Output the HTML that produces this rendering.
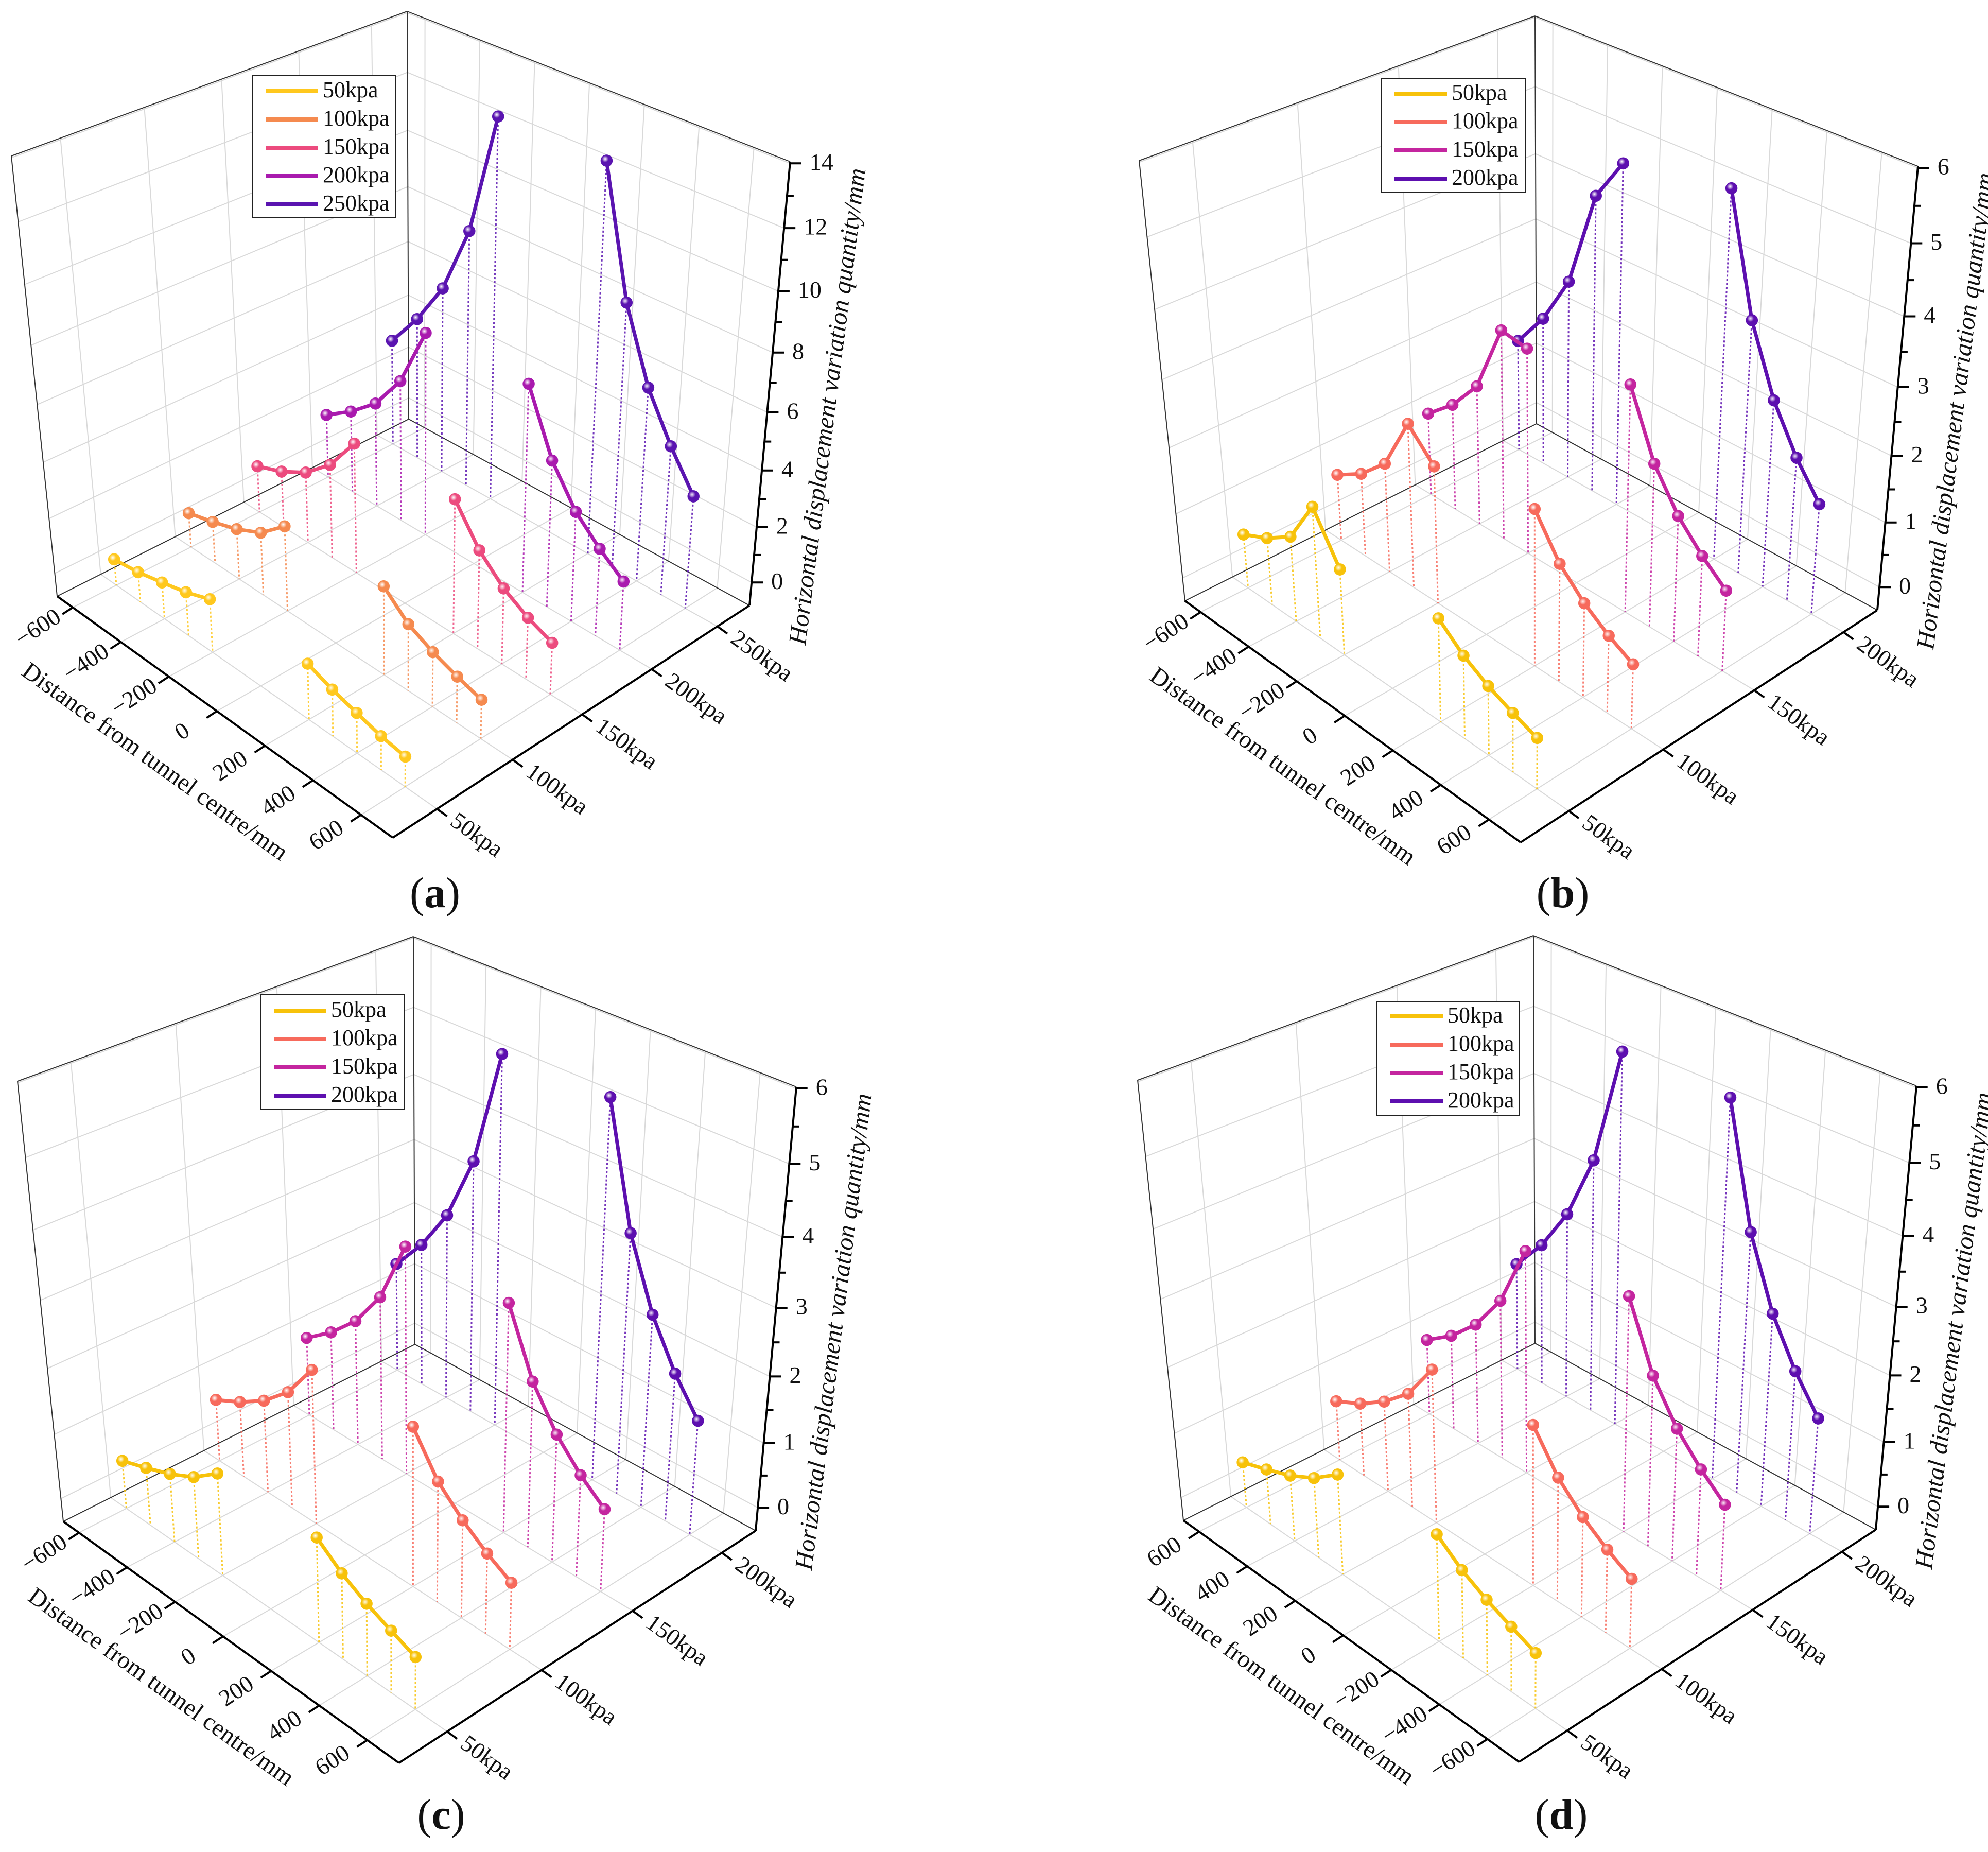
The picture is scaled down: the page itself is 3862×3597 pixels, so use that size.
<!DOCTYPE html>
<html><head><meta charset="utf-8"><title>Horizontal displacement 3D charts</title>
<style>
html,body{margin:0;padding:0;background:#fff;}
svg{display:block;font-family:"Liberation Serif","DejaVu Serif",serif;}
text{font-family:"Liberation Serif","DejaVu Serif",serif;fill:#111;}
</style></head>
<body>
<svg id="fig" xmlns="http://www.w3.org/2000/svg" width="3862" height="3597" viewBox="0 0 3862 3597" font-family="Liberation Serif, DejaVu Serif, serif">
<rect x="0" y="0" width="3862" height="3597" fill="#fff"/>
<defs id="defs"></defs>
</svg>
<script>
// ---------- data ----------
const distLeft = [-600,-500,-400,-300,-200];
const distRight = [200,300,400,500,600];
const distTickValues = [-600,-400,-200,0,200,400,600];
const distTickLabels = ["\u2212600","\u2212400","\u2212200","0","200","400","600"];

const seriesA = ["50kpa","100kpa","150kpa","200kpa","250kpa"];
const seriesBCD = ["50kpa","100kpa","150kpa","200kpa"];

const aLeft = [
  [0.11,0.24,0.46,0.69,1.01],
  [0.43,0.68,0.98,1.40,2.16],
  [0.90,1.25,1.75,2.55,3.80],
  [1.55,2.20,3.00,4.30,6.45],
  [3.16,4.45,6.03,8.48,12.7]
];
const aRight = [
  [1.01,0.69,0.46,0.24,0.11],
  [2.16,1.40,0.98,0.68,0.43],
  [3.80,2.55,1.75,1.25,0.90],
  [6.45,4.30,3.00,2.20,1.55],
  [12.7,8.48,6.03,4.45,3.16]
];
const bLeft = [
  [0.48,0.67,0.93,1.60,0.91],
  [0.69,0.94,1.32,2.13,1.71],
  [0.96,1.32,1.82,2.86,2.78],
  [1.44,2.00,2.77,4.23,4.86]
];
const bRight = [
  [1.10,0.80,0.60,0.45,0.33],
  [1.91,1.34,0.99,0.74,0.55],
  [3.00,2.06,1.50,1.12,0.82],
  [5.14,3.46,2.48,1.82,1.32]
];
const cLeft = [
  [0.39,0.53,0.68,0.87,1.15],
  [0.62,0.82,1.07,1.42,1.96],
  [0.90,1.21,1.60,2.17,3.11],
  [1.40,1.91,2.57,3.57,5.28]
];
const cRight = [
  [1.12,0.84,0.64,0.49,0.35],
  [1.95,1.38,1.04,0.78,0.58],
  [3.03,2.10,1.53,1.14,0.85],
  [5.30,3.57,2.57,1.89,1.38]
];
const dLeft = [
  [0.39,0.53,0.68,0.87,1.15],
  [0.62,0.82,1.07,1.42,1.96],
  [0.90,1.21,1.60,2.17,3.11],
  [1.40,1.91,2.57,3.57,5.28]
];
const dRight = [
  [1.12,0.84,0.64,0.49,0.35],
  [1.95,1.38,1.04,0.78,0.58],
  [3.03,2.10,1.53,1.14,0.85],
  [5.30,3.57,2.57,1.89,1.38]
];
const zTicksA = [0,2,4,6,8,10,12,14];
const zTicksBCD = [0,1,2,3,4,5,6];

// ---------- geometry (styles, not data) ----------
const NS = "http://www.w3.org/2000/svg";
const svg = document.getElementById("fig");
const defs = document.getElementById("defs");
const K = 0.906;
const base = {L:[111,1158],F:[763,1627],B:[794,814],R:[1456,1176],
              Lt:[22,303],Ft:[766,595],Bt:[791,22],Rt:[1535,314]};
const colorsA = ["#FFC81E","#F58A4F","#EC4B7E","#A91AAE","#5A14B0"];
const colorsB = ["#F7C20A","#F76A5C","#C4259F","#5D0FAF"];
const vPosA = [0.124,0.336,0.531,0.726,0.91];
const vPosB = [0.135,0.40,0.655,0.905];

const panels = [
  {id:"a", ox:0, oy:0, wmin:-0.85, wmax:14.05, minorStep:1, ticks:zTicksA, rev:false,
   names:seriesA, colors:colorsA, vpos:vPosA, left:aLeft, right:aRight,
   legend:{x:490,y:147,w:279,h:275,y0:177,dy:55}},
  {id:"b", ox:2191, oy:9, wmin:-0.364, wmax:6.02, minorStep:0.5, ticks:zTicksBCD, rev:false,
   names:seriesBCD, colors:colorsB, vpos:vPosB, left:bLeft, right:bRight,
   legend:{x:2683,y:152,w:281,h:221,y0:182,dy:55}},
  {id:"c", ox:12, oy:1797, wmin:-0.364, wmax:6.02, minorStep:0.5, ticks:zTicksBCD, rev:false,
   names:seriesBCD, colors:colorsB, vpos:vPosB, left:cLeft, right:cRight,
   legend:{x:506,y:1932,w:279,h:223,y0:1963,dy:55}},
  {id:"d", ox:2188, oy:1795, wmin:-0.364, wmax:6.02, minorStep:0.5, ticks:zTicksBCD, rev:true,
   names:seriesBCD, colors:colorsB, vpos:vPosB, left:dLeft, right:dRight,
   legend:{x:2675,y:1946,w:277,h:220,y0:1974,dy:55}}
];

function el(tag, attrs, parent){
  const e = document.createElementNS(NS, tag);
  for (const k in attrs) e.setAttribute(k, attrs[k]);
  (parent||svg).appendChild(e);
  return e;
}
function bil(c, u, v, i){
  return c[0][i]*(1-u)*(1-v) + c[1][i]*u*(1-v) + c[2][i]*(1-u)*v + c[3][i]*u*v;
}
function persp(s){ return s*K/(1+(K-1)*s); }
function proj(P, u, v, w){
  const s = (w - P.wmin)/(P.wmax - P.wmin);
  const t = persp(s);
  const fl = [base.L, base.F, base.B, base.R];
  const tp = [base.Lt, base.Ft, base.Bt, base.Rt];
  const x = bil(fl,u,v,0)*(1-t) + bil(tp,u,v,0)*t;
  const y = bil(fl,u,v,1)*(1-t) + bil(tp,u,v,1)*t;
  return [x + P.ox, y + P.oy];
}
function uOf(P, d){ return 0.476 + 0.4295*(P.rev ? -d : d)/600; }
function line(g, p, q, stroke, sw, extra){
  const a = {x1:p[0].toFixed(1), y1:p[1].toFixed(1), x2:q[0].toFixed(1), y2:q[1].toFixed(1),
             stroke:stroke, "stroke-width":sw};
  if (extra) for (const k in extra) a[k]=extra[k];
  return el("line", a, g);
}
const FF = "Liberation Serif, DejaVu Serif, serif";

panels.forEach(P => {
  const g = el("g", {});
  
  

  const grid = el("g", {}, g);
  
  
  const gc = "#d9d9d9";
  P.vpos.forEach(v => line(grid, proj(P,0,v,P.wmin), proj(P,0,v,P.wmax), gc, 2));
  P.ticks.forEach(w => line(grid, proj(P,0,0,w), proj(P,0,1,w), gc, 2));
  distTickValues.forEach(d => { const u=uOf(P,d); line(grid, proj(P,u,1,P.wmin), proj(P,u,1,P.wmax), gc, 2); });
  P.ticks.forEach(w => line(grid, proj(P,0,1,w), proj(P,1,1,w), gc, 2));
  distTickValues.forEach(d => { const u=uOf(P,d); line(grid, proj(P,u,0,P.wmin), proj(P,u,1,P.wmin), gc, 2); });
  P.vpos.forEach(v => line(grid, proj(P,0,v,P.wmin), proj(P,1,v,P.wmin), gc, 2));

  const box = el("g", {}, g);
  
  
  const ec = "#333";
  line(box, proj(P,0,0,P.wmax), proj(P,0,1,P.wmax), ec, 2);
  line(box, proj(P,0,1,P.wmax), proj(P,1,1,P.wmax), ec, 2);
  line(box, proj(P,0,1,P.wmin), proj(P,0,1,P.wmax), ec, 2);
  line(box, proj(P,0,0,P.wmin), proj(P,0,0,P.wmax), ec, 2);
  line(box, proj(P,0,0,P.wmin), proj(P,0,1,P.wmin), ec, 2);
  line(box, proj(P,0,1,P.wmin), proj(P,1,1,P.wmin), ec, 2);

  const dax = el("g", {}, g);
  
  
  line(dax, proj(P,0,0,P.wmin), proj(P,1,0,P.wmin), "#000", 4);
  const Fp = proj(P,1,0,P.wmin), Rp = proj(P,1,1,P.wmin), Lp = proj(P,0,0,P.wmin);
  let ox = Fp[0]-Rp[0], oy = Fp[1]-Rp[1]; let n = Math.hypot(ox,oy); ox/=n; oy/=n;
  const angFR = Math.atan2(Rp[1]-Fp[1], Rp[0]-Fp[0])*180/Math.PI;
  distTickValues.forEach((d,i) => {
    const p = proj(P,uOf(P,d),0,P.wmin);
    line(dax, p, [p[0]+ox*24, p[1]+oy*24], "#000", 4);
    const lx = p[0]+ox*78, ly = p[1]+oy*78;
    const t = el("text", {x:lx.toFixed(1), y:ly.toFixed(1), "font-size":46, "font-family":FF, "text-anchor":"middle",
      "dominant-baseline":"middle", transform:`rotate(${angFR.toFixed(1)} ${lx.toFixed(1)} ${ly.toFixed(1)})`}, dax);
    
    
    t.textContent = distTickLabels[i];
  });
  const angLF = Math.atan2(Fp[1]-Lp[1], Fp[0]-Lp[0])*180/Math.PI;
  {
    const mid = proj(P,0.5,0,P.wmin);
    const tx = mid[0]+ox*165, ty = mid[1]+oy*165;
    const t = el("text", {x:tx.toFixed(1), y:ty.toFixed(1), "font-size":48, "font-family":FF, "text-anchor":"middle",
      "dominant-baseline":"middle", transform:`rotate(${angLF.toFixed(1)} ${tx.toFixed(1)} ${ty.toFixed(1)})`}, dax);
    
    
    t.textContent = "Distance from tunnel centre/mm";
  }

  const pax = el("g", {}, g);
  
  
  line(pax, Fp, Rp, "#000", 4);
  let px = Fp[0]-Lp[0], py = Fp[1]-Lp[1]; n = Math.hypot(px,py); px/=n; py/=n;
  P.vpos.forEach((v,i) => {
    const p = proj(P,1,v,P.wmin);
    line(pax, p, [p[0]+px*24, p[1]+py*24], "#000", 4);
    const lx = p[0]+px*36, ly = p[1]+py*36;
    const t = el("text", {x:lx.toFixed(1), y:ly.toFixed(1), "font-size":46, "font-family":FF, "text-anchor":"start",
      "dominant-baseline":"middle", transform:`rotate(${angLF.toFixed(1)} ${lx.toFixed(1)} ${ly.toFixed(1)})`}, pax);
    
    
    t.textContent = P.names[i];
  });

  const zax = el("g", {}, g);
  
  
  line(zax, proj(P,1,1,P.wmin), proj(P,1,1,P.wmax), "#000", 4);
  const maxT = P.ticks[P.ticks.length-1];
  for (let w = 0; w <= maxT + 1e-6; w += P.minorStep) {
    const p = proj(P,1,1,w);
    const major = P.ticks.some(tk => Math.abs(tk-w) < 1e-6);
    line(zax, p, [p[0]+(major?22:13), p[1]], "#000", 4);
  }
  P.ticks.forEach(w => {
    const p = proj(P,1,1,w);
    const t = el("text", {x:(p[0]+38).toFixed(1), y:(p[1]+2).toFixed(1), "font-size":46, "font-family":FF,
      "dominant-baseline":"middle"}, zax);
    
    
    t.textContent = String(w);
  });
  {
    const tx = P.ox + 1612, ty = P.oy + 790;
    const t = el("text", {x:tx, y:ty, "font-size":49, "font-family":FF, "font-style":"italic", "text-anchor":"middle",
      "dominant-baseline":"middle", transform:`rotate(-82.8 ${tx} ${ty})`}, zax);
    
    
    t.textContent = "Horizontal displacement variation quantity/mm";
  }

  const order = P.names.map((_,i)=>i).reverse();
  order.forEach(si => {
    const color = P.colors[si];
    const gid = "grad-" + P.id + "-" + si;
    const rg = el("radialGradient", {id:gid, cx:"38%", cy:"35%", r:"65%"}, defs);
    el("stop", {offset:"0%", "stop-color":"#ffffff", "stop-opacity":"0.9"}, rg);
    el("stop", {offset:"45%", "stop-color":color}, rg);
    el("stop", {offset:"100%", "stop-color":color}, rg);
    const sg = el("g", {}, g);
    
    
    const v = P.vpos[si];
    [[distLeft, P.left[si]], [distRight, P.right[si]]].forEach(([dists, vals], gi) => {
      const pts = dists.map((d,k) => proj(P, uOf(P,d), v, vals[k]));
      dists.forEach((d,k) => {
        const st = line(sg, pts[k], proj(P, uOf(P,d), v, P.wmin), color, 3, {"stroke-dasharray":"4 4", "stroke-opacity":"0.85"});
        
        
      });
      const pl = el("polyline", {points: pts.map(p=>p[0].toFixed(1)+","+p[1].toFixed(1)).join(" "),
        fill:"none", stroke:color, "stroke-width":7, "stroke-linejoin":"round"}, sg);
      
      
      pts.forEach(p => {
        const c = el("circle", {cx:p[0].toFixed(1), cy:p[1].toFixed(1), r:11, fill:"url(#"+gid+")",
          stroke:color, "stroke-width":1.5}, sg);
        
        
      });
    });
  });

  const L = P.legend;
  const lg = el("g", {}, g);
  
  
  el("rect", {x:L.x, y:L.y, width:L.w, height:L.h, fill:"#fff", stroke:"#222", "stroke-width":2}, lg);
  P.names.forEach((nm,i) => {
    const y = L.y0 + i*L.dy;
    const ent = el("g", {}, lg);
    
    
    el("line", {x1:L.x+26, y1:y, x2:L.x+128, y2:y, stroke:P.colors[i], "stroke-width":8}, ent);
    const t = el("text", {x:L.x+137, y:y+2, "font-size":44, "font-family":FF, "dominant-baseline":"middle"}, ent);
    t.textContent = nm;
  });

  const lab = el("text", {x:P.ox+845, y:(P.id==="a"||P.id==="b") ? 1762 : 3552, "font-size":84, "font-family":FF, "text-anchor":"middle"}, g);
  
  
  const t1 = el("tspan", {}, lab); t1.textContent = "(";
  const t2 = el("tspan", {"font-weight":"bold"}, lab); t2.textContent = P.id;
  const t3 = el("tspan", {}, lab); t3.textContent = ")";
});
</script>
</body></html>
